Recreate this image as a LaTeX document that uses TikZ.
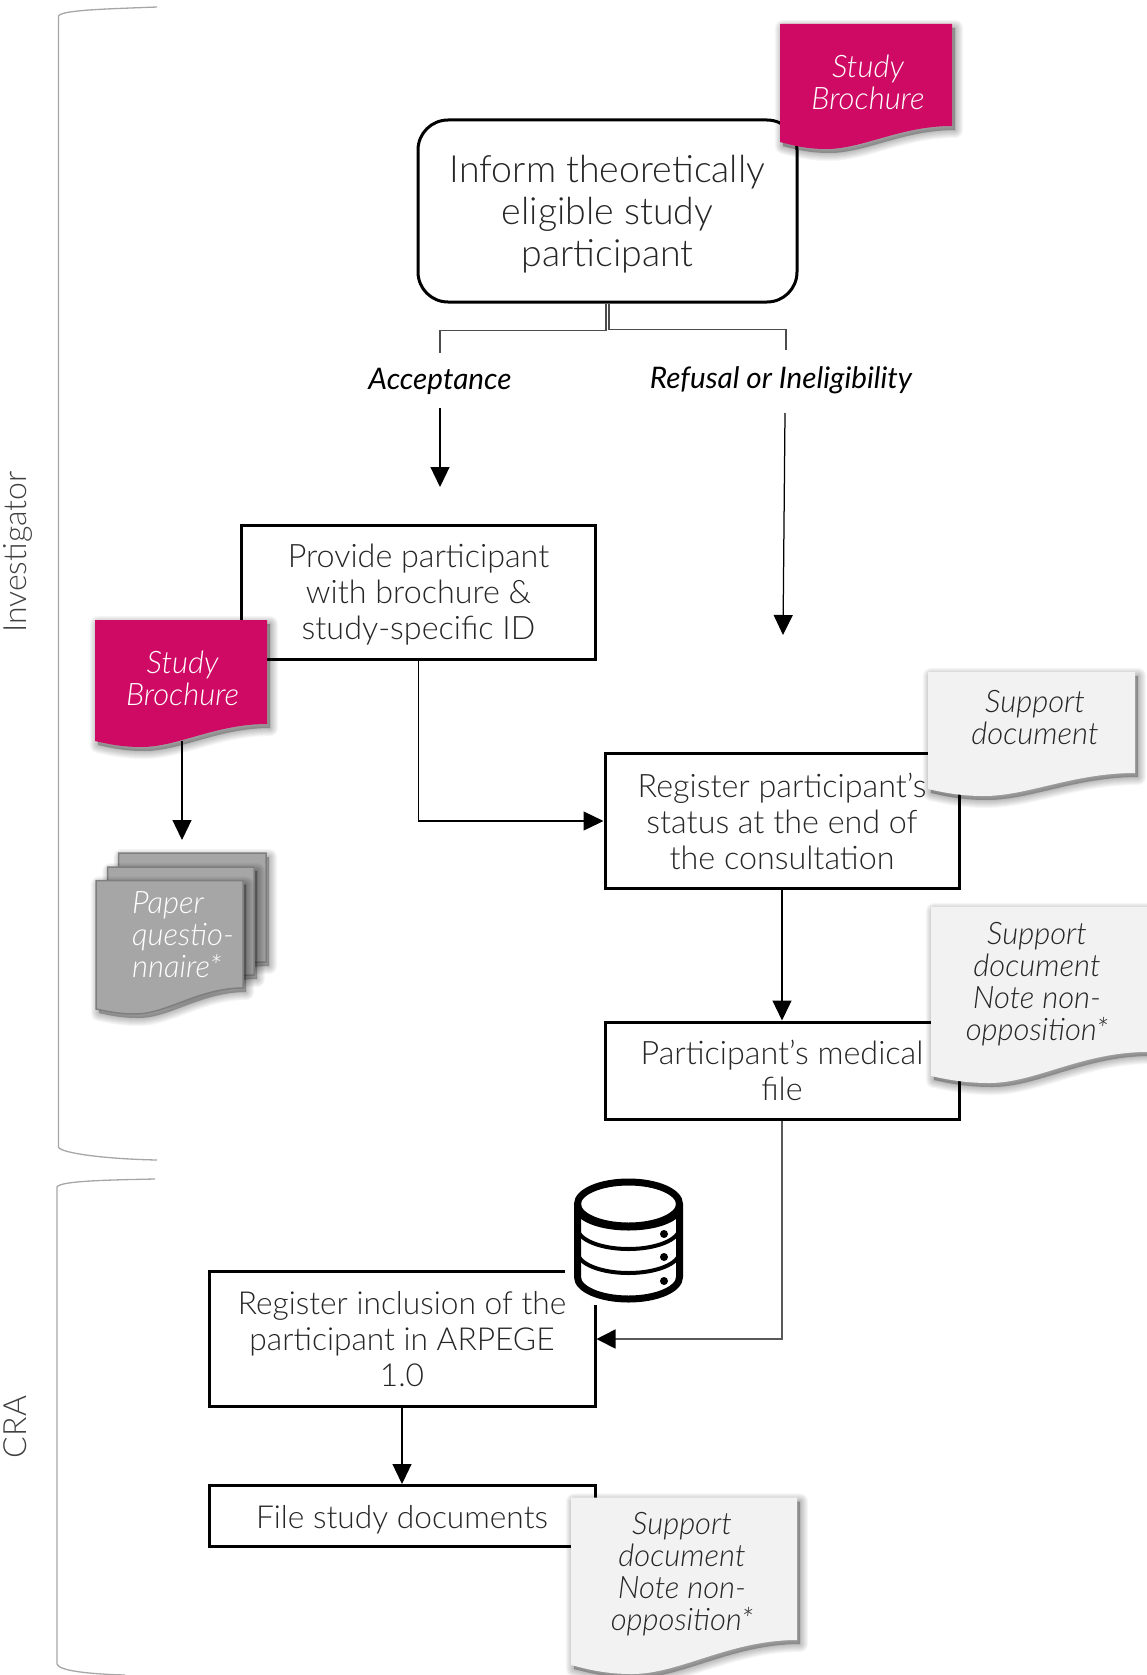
\documentclass[tikz,border=0pt]{standalone}
\usepackage{fontspec}
\setmainfont{Lato Light}[ItalicFont={Lato Light Italic},BoldFont={Lato},BoldItalicFont={Lato Italic}]
\usetikzlibrary{arrows.meta}
\definecolor{brochurepink}{HTML}{CF0A64}
\definecolor{paperfill}{HTML}{A6A6A6}
\definecolor{paperline}{HTML}{7F7F7F}
\definecolor{supportfill}{HTML}{F2F2F2}
\definecolor{inktext}{HTML}{262626}
\tikzset{
  x=1pt,y=-1pt,
  struts/.style={execute at begin node=\rule{0pt}{\baselineskip},execute at end node=\strut},
  procbox/.style={draw=black,line width=3pt,fill=white,text=inktext,align=center,inner sep=0pt,font=\fontsize{32.3}{36}\selectfont},
  roundbox/.style={procbox,rounded corners=30pt,font=\fontsize{37.5}{42}\selectfont},
  lowbox/.style={procbox,font=\fontsize{31.7}{36}\selectfont},
  doctext/.style={align=center,inner sep=0pt,font=\itshape\fontsize{31}{32}\selectfont},
  pinktext/.style={doctext,text=white},
  graytext/.style={doctext,text=inktext},
  papertext/.style={doctext,text=white,align=left,anchor=west},
  decision/.style={inner sep=0pt,text=black,struts,font=\bfseries\itshape\fontsize{29.7}{32}\selectfont},
  lane/.style={inner sep=0pt,rotate=90,text=black!75,font=\fontsize{32}{36}\selectfont},
  flow/.style={draw=black,line width=1.25pt,-{Triangle[length=20pt,width=19pt]}},
  forkline/.style={draw=black!70,line width=1.6pt},
  grayflow/.style={draw=black!65,line width=1.6pt,-{Triangle[length=19pt,width=19pt,color=black]}},
  bracket/.style={draw=black!35,line width=1.3pt},
}
% #1 x-left, #2 y-top, #3 x-right, #4 y at right bottom, #5 y at left bottom, #6 lowest y
\newcommand{\docpath}[6]{%
  (#1,#2) -- (#3,#2) -- (#3,#4)
  .. controls ({#3-0.30*(#3-#1)},#4) and ({#1+0.48*(#3-#1)},#6) .. ({#1+0.27*(#3-#1)},#6)
  .. controls ({#1+0.15*(#3-#1)},#6) and ({#1+0.07*(#3-#1)},{#5+0.45*(#6-#5)}) .. (#1,#5) -- cycle}
% #7 style of the sheet
\newcommand{\docsheet}[7]{%
  \foreach \blur in {0,...,8}{%
    \pgfmathsetmacro{\bw}{\blur*2+0.1}
    \fill[black,opacity=0.035,draw=black,line width=\bw pt,line join=round,shift={(3,4)}] \docpath{#1}{#2}{#3}{#4}{#5}{#6};
  }
  \path[#7] \docpath{#1}{#2}{#3}{#4}{#5}{#6};
}
\begin{document}
\begin{tikzpicture}
\useasboundingbox (0,0) rectangle (1147,1675);
% lane brackets
\draw[bracket] (157,7) .. controls (105,9) and (62,10) .. (58.5,16) -- (58.5,1147) .. controls (60,1153) and (105,1159) .. (157,1160);
\draw[bracket] (155,1179) .. controls (105,1180) and (60,1181) .. (57,1187) -- (57,1664) .. controls (59,1671) and (90,1674) .. (125,1675);
\node[lane] (investigator) at (18,552) {Investigator};
\node[lane] (cra) at (15,1427) {CRA};

% process boxes
\node[roundbox,minimum width=379pt,minimum height=182pt] (inform) at (607.5,211) {Inform theoretically\\eligible study\\\smash{participant}};
\node[procbox,minimum width=354pt,minimum height=134pt] (provide) at (418.5,592) {Provide participant\\with brochure \&\\\smash{study-specific ID}};
\node[procbox,minimum width=354pt,minimum height=135pt] (register) at (782,821) {Register participant’s\\status at the end of\\the consultation};
\node[procbox,minimum width=354pt,minimum height=97pt] (medical) at (782,1070.5) {Participant’s medical\\file};
\node[lowbox,minimum width=386pt,minimum height=135pt] (inclusion) at (402,1339) {Register inclusion of the\\participant in ARPEGE\\1.0};
\node[lowbox,struts,minimum width=386pt,minimum height=61pt] (filing) at (402,1516) {File study documents};

% decision labels
\node[decision] (accept) at (440,378) {Acceptance};
\node[decision] (refuse) at (781,377) {Refusal or Ineligibility};

% free ends
\coordinate (forkL) at (440,353);
\coordinate (forkR) at (786,350);
\coordinate (acceptOut) at (440,408);
\coordinate (acceptEnd) at (440,487);
\coordinate (refuseOut) at (785,413);
\coordinate (refuseEnd) at (783,635);
\coordinate (brochOut) at (182,741);
\coordinate (paperIn) at (182,840);

% connectors
\draw[forkline] ([xshift=-1.5pt]inform.south) -- ++(0,27) -| (forkL);
\draw[forkline] ([xshift=1.5pt]inform.south) -- ++(0,26) -| (forkR);
\draw[flow] (acceptOut) -- (acceptEnd);
\draw[flow] (refuseOut) -- (refuseEnd);
\draw[flow] (provide.south) |- (register.west);
\draw[flow] (register.south) -- (medical.north);
\draw[grayflow] (medical.south) |- (inclusion.east);
\draw[flow] (inclusion.south) -- (filing.north);
\draw[flow] (brochOut) -- (paperIn);

% database icon
\fill[white] (565,1175) rectangle (692,1305);
\draw[black,line width=7pt] (628.5,1204) ellipse [x radius=51,y radius=22];
\draw[black,line width=7pt] (577.5,1204) -- (577.5,1277) arc[start angle=180,end angle=360,x radius=51,y radius=-22] -- (679.5,1204);
\draw[black,line width=7pt] (577.5,1207) arc[start angle=180,end angle=360,x radius=51,y radius=-20];
\draw[black,line width=4pt] (577.5,1228) arc[start angle=180,end angle=360,x radius=51,y radius=-21];
\draw[black,line width=4pt] (577.5,1252) arc[start angle=180,end angle=360,x radius=51,y radius=-21];
\fill[black] (664,1234) circle (4) (664,1257) circle (4) (664,1281) circle (4);

% documents
\docsheet{780}{24}{952}{126}{142}{149}{fill=brochurepink}
\node[pinktext] (brochureTop) at (868,82) {Study\\Brochure};
\docsheet{95}{620}{267}{724}{741}{747}{fill=brochurepink}
\node[pinktext] (brochureLeft) at (182.6,678) {Study\\Brochure};

\docsheet{118.5}{853}{266}{962}{980}{985}{fill=paperfill,draw=paperline,line width=1.5pt}
\docsheet{107.5}{867}{254}{975}{994}{999}{fill=paperfill,draw=paperline,line width=1.5pt}
\docsheet{96}{880.5}{243}{988}{1009}{1014}{fill=paperfill,draw=paperline,line width=1.5pt}
\node[papertext] (paper) at (132,935) {Paper\\questio-\\nnaire*};

\docsheet{928}{672}{1135}{773}{789}{796}{fill=supportfill}
\node[graytext] (supportA) at (1035,718) {Support\\document};
\docsheet{931}{907}{1147}{1052}{1076}{1083}{fill=supportfill}
\node[graytext] (supportB) at (1037,984) {Support\\document\\Note non-\\opposition*};
\docsheet{571}{1497.5}{797}{1640}{1665}{1674}{fill=supportfill}
\node[graytext] (supportC) at (682,1574) {Support\\document\\Note non-\\opposition*};
\end{tikzpicture}
\end{document}
